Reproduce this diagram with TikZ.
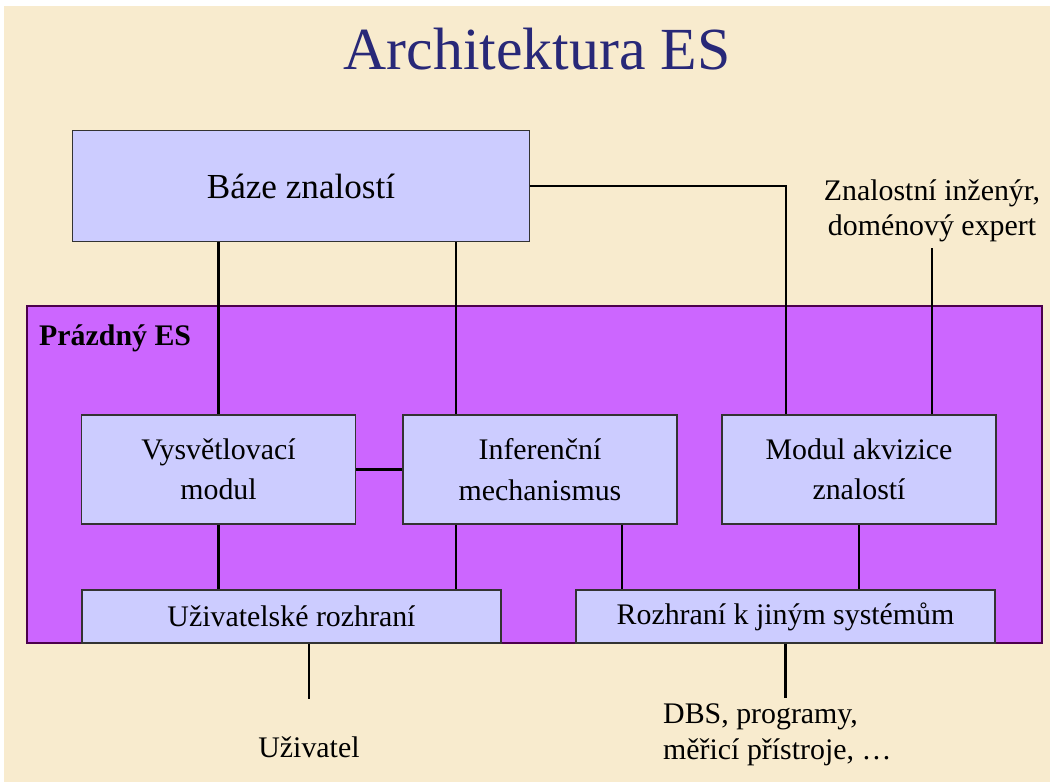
\documentclass[tikz,border=0pt]{standalone}
\usepackage{fontspec}
\setmainfont{Liberation Serif}
\usepackage{tikz}

\definecolor{bgbeige}{RGB}{248,235,206}
\definecolor{boxlav}{RGB}{204,204,255}
\definecolor{esviolet}{RGB}{204,102,255}
\definecolor{titleblue}{RGB}{40,40,120}

\begin{document}
\begin{tikzpicture}[x=0.2mm, y=-0.2mm,
		box_style/.style={rectangle,draw=black!80,line width=0.8pt,fill=boxlav,align=center,font=\fontsize{17}{23}\selectfont},
		edge_style/.style={draw=black,line width=1.3pt},
		label_style/.style={align=center,font=\fontsize{17}{20}\selectfont}]
		
		% background
		\fill[white] (0,0) rectangle (1050,782);
		\fill[bgbeige] (4,6) rectangle (1050,782);
		\useasboundingbox (0,0) rectangle (1050,782);
		
		\node[text=titleblue,font=\fontsize{34}{40}\selectfont] (title) at (537,49) {Architektura ES};
		
		% prazdny ES
		\node[rectangle,draw=violet!60!black,line width=0.8pt,fill=esviolet,minimum width=203mm,minimum height=67.4mm] (es) at (534.5,474.5) {};
		\node[anchor=base west,font=\fontsize{17}{20}\selectfont\bfseries] (eslabel) at (33,345) {Prázdný ES};
		
		\node[box_style,minimum width=91.4mm,minimum height=22.2mm,font=\fontsize{20}{24}\selectfont] (baze) at (301,186) {Báze znalostí};
		\node[box_style,minimum width=54.8mm,minimum height=21.8mm] (vysv) at (218.5,469.5) {Vysvětlovací\\modul};
		\node[box_style,minimum width=54.8mm,minimum height=21.8mm] (infer) at (540,469.5) {Inferenční\\mechanismus};
		\node[box_style,minimum width=54.8mm,minimum height=21.8mm] (modul) at (859,469.5) {Modul akvizice\\znalostí};
		\node[box_style,minimum width=83.8mm,minimum height=10.6mm] (uziv) at (291.5,616.5) {Uživatelské rozhraní};
		\node[box_style,minimum width=83.8mm,minimum height=10.6mm] (rozhr) at (785.5,616.5) {Rozhraní k jiným systémům};
		
		\node[label_style] (expert) at (932,211) {Znalostní inženýr,\\doménový expert};
		\node[label_style] (user) at (309,747) {Uživatel};
		\node[label_style,align=left,anchor=north west] (dbs) at (657,698) {DBS, programy,\\měřicí přístroje, \ldots};
		
		\coordinate (xa) at (456,0);
		\coordinate (xb) at (622,0);
		\coordinate (xc) at (786,0);
		
		\draw[edge_style]  (baze.south -| vysv) -- (vysv.north);
		\draw[edge_style]  (baze.south -| xa) -- (infer.north -| xa);
		\draw[edge_style]  (baze.east) -| (modul.north -| xc);
		\draw[edge_style]  (expert.south) -- (modul.north -| expert.south);
		\draw[edge_style]  (vysv) edge node{} (infer);
		\draw[edge_style]  (vysv.south) -- (uziv.north -| vysv.south);
		\draw[edge_style]  (infer.south -| xa) -- (uziv.north -| xa);
		\draw[edge_style]  (infer.south -| xb) -- (rozhr.north -| xb);
		\draw[edge_style]  (modul.south) -- (rozhr.north -| modul.south);
		\draw[edge_style,shorten >=6.2mm]  (uziv.south -| user) -- (user.north);
		\draw[edge_style]  (rozhr.south) -- (dbs.north -| rozhr.south);
		
\end{tikzpicture}
\end{document}
